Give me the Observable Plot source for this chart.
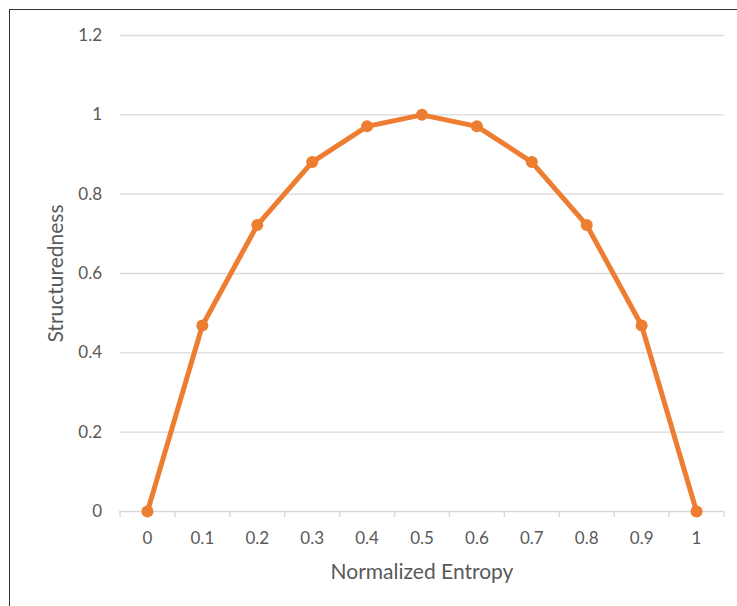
<!DOCTYPE html>
<html><head><meta charset="utf-8">
<script src="https://cdn.jsdelivr.net/npm/d3@7"></script>
<script src="https://cdn.jsdelivr.net/npm/@observablehq/plot@0.6"></script>
<style>
html,body{margin:0;padding:0;background:#fff;}
#wrap{position:relative;width:737px;height:606px;overflow:hidden;}
#border{position:absolute;left:9px;top:9px;width:800px;height:700px;border-left:1.5px solid #333;border-top:1.5px solid #333;}
#chart{position:absolute;left:0;top:0;}
</style></head>
<body><div id="wrap"><div id="border"></div><div id="chart"></div></div>
<script>
const entropy = [0, 0.1, 0.2, 0.3, 0.4, 0.5, 0.6, 0.7, 0.8, 0.9, 1];
const structuredness = [0, 0.469, 0.722, 0.881, 0.971, 1, 0.971, 0.881, 0.722, 0.469, 0];
const yTicks = [0, 0.2, 0.4, 0.6, 0.8, 1, 1.2];
const yTickLabels = ["0", "0.2", "0.4", "0.6", "0.8", "1", "1.2"];
const xTickLabels = ["0","0.1","0.2","0.3","0.4","0.5","0.6","0.7","0.8","0.9","1"];

const data = entropy.map((x, i) => ({x, y: structuredness[i]}));
const boundaries = [entropy[0] - 0.05, ...entropy.map(v => +(v + 0.05).toFixed(2))];
const font = "Lato, sans-serif";

const plot = Plot.plot({
  width: 737, height: 606,
  marginLeft: 119.5, marginRight: 13.5, marginTop: 35, marginBottom: 95,
  style: {fontFamily: font, fontSize: "17px", color: "#595959", background: "transparent"},
  x: {type: "linear", domain: [-0.05, 1.05]},
  y: {domain: [0, 1.2]},
  marks: [
    Plot.ruleY(yTicks, {stroke: "#d9d9d9", strokeWidth: 1.4}),
    Plot.axisX({ticks: boundaries, tickSize: 6, tickFormat: () => "", stroke: "#d9d9d9", strokeWidth: 1.4, label: null}),
    Plot.axisX({ticks: entropy, tickSize: 0, tickPadding: 20, tickFormat: (d, i) => xTickLabels[i], fill: "#595959", label: null, fontSize: 17}),
    Plot.axisY({ticks: yTicks, tickSize: 0, tickPadding: 18, tickFormat: (d, i) => yTickLabels[i], fill: "#595959", label: null, fontSize: 17}),
    Plot.text(["Normalized Entropy"], {frameAnchor: "bottom", dy: 67, fill: "#595959", fontSize: 21}),
    Plot.text(["Structuredness"], {frameAnchor: "left", dx: -64, rotate: -90, textAnchor: "middle", fill: "#595959", fontSize: 21}),
    Plot.line(data, {x: "x", y: "y", stroke: "#ED7D31", strokeWidth: 5, strokeLinejoin: "round"}),
    Plot.dot(data, {x: "x", y: "y", r: 6, fill: "#ED7D31", stroke: "none"})
  ]
});
document.getElementById("chart").appendChild(plot);
</script></body></html>
